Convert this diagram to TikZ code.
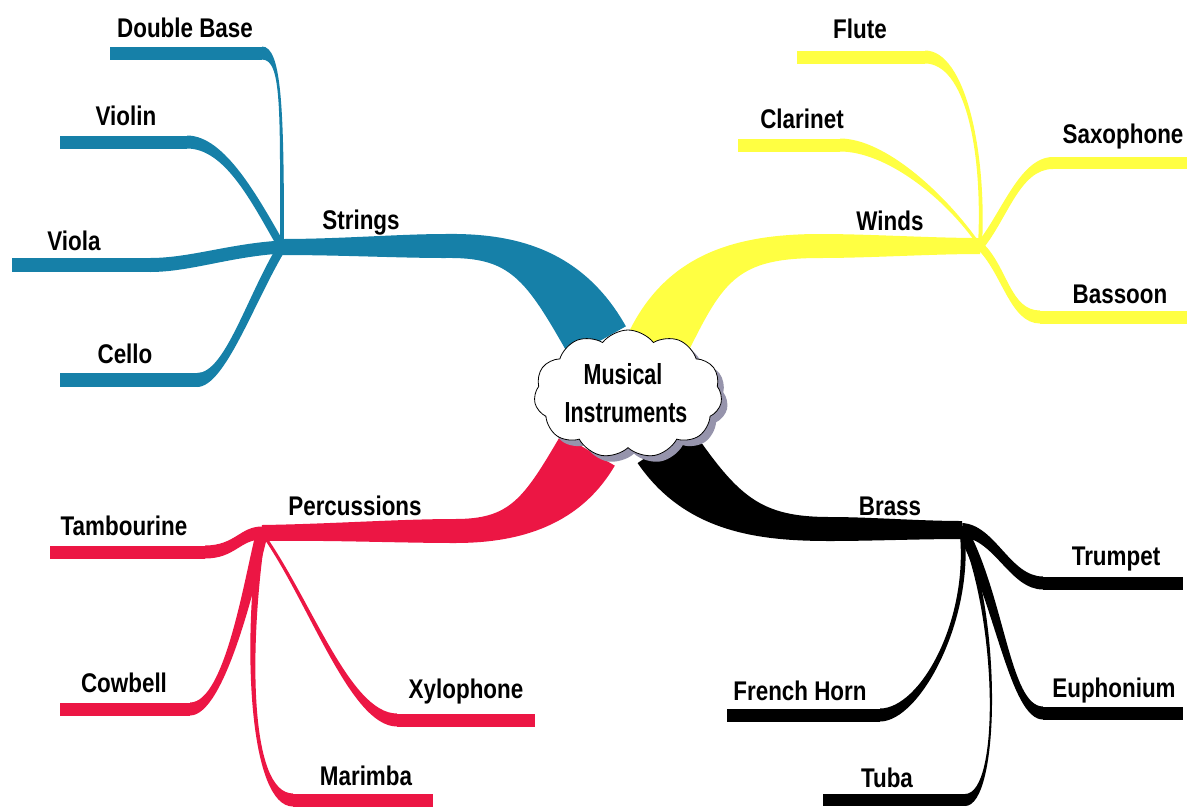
\documentclass[tikz,border=0pt]{standalone}
\usepackage{fontspec}
\newfontfamily\labfont{Liberation Sans}[FakeStretch=0.83]
\newfontfamily\cloudfont{Liberation Sans}[FakeStretch=0.74]
\usetikzlibrary{calc,shapes.symbols}
\definecolor{strblue}{RGB}{22,128,168}
\definecolor{windyel}{RGB}{255,255,66}
\definecolor{percred}{RGB}{236,22,68}
\definecolor{brassblk}{RGB}{0,0,0}
\definecolor{cloudshade}{RGB}{150,148,172}
% tapered cubic band: colour, P0, P1, P2, P3, width at P0, width at P3
\newcommand\taper[7]{%
  \fill[#1] ($(#2)!#6*0.5pt!90:(#3)$) .. controls ($(#3)!#6*0.5pt!-90:(#2)$) and ($(#4)!#7*0.5pt!90:(#5)$) .. ($(#5)!#7*0.5pt!-90:(#4)$)
   -- ($(#5)!#7*0.5pt!90:(#4)$) .. controls ($(#4)!#7*0.5pt!-90:(#5)$) and ($(#3)!#6*0.5pt!90:(#2)$) .. ($(#2)!#6*0.5pt!-90:(#3)$) -- cycle;}
\tikzset{
  lbl/.style={font=\labfont\bfseries\fontsize{27}{30}\selectfont, inner sep=0pt, anchor=base, text=black},
  ctext/.style={font=\cloudfont\bfseries\fontsize{29}{32}\selectfont, inner sep=0pt, anchor=base, text=black},
  leaf/.style={line width=#1, line cap=butt},
  cloudshape/.style={cloud, cloud puffs=11, cloud puff arc=105, aspect=1.5, minimum width=188pt, minimum height=128pt, inner sep=0pt}
}
\begin{document}
\begin{tikzpicture}[x=1pt,y=-1pt]
\useasboundingbox (0,0) rectangle (1187,807);
\fill[white] (0,0) rectangle (1187,807);

% ---------- Strings ----------
\coordinate (Sc) at (598,342);
\coordinate (S1) at (445,246);
\coordinate (Js) at (282,247);
\coordinate (dbK) at (262,53);  \coordinate (dbE) at (110,53);
\coordinate (vnK) at (187,142); \coordinate (vnE) at (60,142);
\coordinate (vaK) at (150,265); \coordinate (vaE) at (12,265);
\coordinate (ceK) at (197,380); \coordinate (ceE) at (60,380);
\taper{strblue}{Sc}{553,262}{510,245}{S1}{64}{24}
\taper{strblue}{S1}{400,246}{340,247}{Js}{24}{16}
\taper{strblue}{Js}{282,110}{282,53}{dbK}{4}{13}
\taper{strblue}{Js}{255,200}{225,142}{vnK}{8}{13}
\taper{strblue}{Js}{230,250}{190,265}{vaK}{13}{14}
\taper{strblue}{Js}{250,300}{225,380}{ceK}{9}{14}
\draw[strblue, leaf=13pt] (dbK) -- (dbE);
\draw[strblue, leaf=13pt] (vnK) -- (vnE);
\draw[strblue, leaf=14pt] (vaK) -- (vaE);
\draw[strblue, leaf=14pt] (ceK) -- (ceE);

% ---------- Winds ----------
\coordinate (Wc) at (657,345);
\coordinate (W1) at (820,246);
\coordinate (Jw) at (980,246);
\coordinate (flK) at (925,57);   \coordinate (flE) at (797,57);
\coordinate (clK) at (840,145);  \coordinate (clE) at (738,145);
\coordinate (sxK) at (1053,163); \coordinate (sxE) at (1187,163);
\coordinate (bsK) at (1040,317); \coordinate (bsE) at (1187,317);
\taper{windyel}{Wc}{695,268}{735,246}{W1}{62}{24}
\taper{windyel}{W1}{870,246}{930,246}{Jw}{24}{16}
\taper{windyel}{Jw}{985,150}{965,57}{flK}{4}{13}
\taper{windyel}{Jw}{945,195}{885,145}{clK}{3}{13}
\taper{windyel}{Jw}{1005,215}{1020,163}{sxK}{8}{12}
\taper{windyel}{Jw}{1005,270}{1010,317}{bsK}{8}{13}
\draw[windyel, leaf=13pt] (flK) -- (flE);
\draw[windyel, leaf=13pt] (clK) -- (clE);
\draw[windyel, leaf=12pt] (sxK) -- (sxE);
\draw[windyel, leaf=13pt] (bsK) -- (bsE);

% ---------- Percussions ----------
\coordinate (Pc) at (588,450);
\coordinate (P1) at (455,531);
\coordinate (Jp) at (262,533);
\coordinate (tbK) at (205,552); \coordinate (tbE) at (50,552);
\coordinate (cwK) at (190,709); \coordinate (cwE) at (60,709);
\coordinate (mrK) at (293,800); \coordinate (mrE) at (433,800);
\coordinate (xyK) at (397,720); \coordinate (xyE) at (535,720);
\taper{percred}{Pc}{550,515}{510,531}{P1}{62}{24}
\taper{percred}{P1}{400,531}{330,532}{Jp}{24}{16}
\taper{percred}{Jp}{240,533}{235,552}{tbK}{13}{13}
\taper{percred}{Jp}{250,580}{225,709}{cwK}{12}{13}
\taper{percred}{Jp}{245,650}{250,800}{mrK}{7}{13}
\taper{percred}{Jp}{310,600}{350,720}{xyK}{3}{13}
\draw[percred, leaf=13pt] (tbK) -- (tbE);
\draw[percred, leaf=13pt] (cwK) -- (cwE);
\draw[percred, leaf=13pt] (mrK) -- (mrE);
\draw[percred, leaf=13pt] (xyK) -- (xyE);

% ---------- Brass ----------
\coordinate (Bc) at (664,445);
\coordinate (B1) at (830,529);
\coordinate (Jb) at (962,530);
\coordinate (trK) at (1043,583); \coordinate (trE) at (1183,583);
\coordinate (euK) at (1043,713); \coordinate (euE) at (1183,713);
\coordinate (tuK) at (965,800);  \coordinate (tuE) at (823,800);
\coordinate (fhK) at (880,715);  \coordinate (fhE) at (727,715);
\taper{brassblk}{Bc}{712,515}{760,529}{B1}{64}{24}
\taper{brassblk}{B1}{870,529}{920,530}{Jb}{24}{18}
\taper{brassblk}{Jb}{995,532}{1010,583}{trK}{14}{13}
\taper{brassblk}{Jb}{1000,600}{1010,713}{euK}{11}{13}
\taper{brassblk}{Jb}{1000,620}{1000,800}{tuK}{5}{12}
\taper{brassblk}{Jb}{972,620}{920,715}{fhK}{5}{13}
\draw[brassblk, leaf=13pt] (trK) -- (trE);
\draw[brassblk, leaf=13pt] (euK) -- (euE);
\draw[brassblk, leaf=12pt] (tuK) -- (tuE);
\draw[brassblk, leaf=13pt] (fhK) -- (fhE);

% ---------- Centre cloud ----------
\node[cloudshape, fill=cloudshade] (cloudshadow) at (634,400) {};
\node[cloudshape, fill=white, draw=black, line width=0.8pt] (cloud) at (628,394) {};
\node[ctext] (musical) at (623,384) {Musical};
\node[ctext] (instr) at (626,422) {Instruments};

% ---------- Labels ----------
\node[lbl] (strL) at (361,229) {Strings};
\node[lbl] (dbL) at (185,37) {Double Base};
\node[lbl] (vnL) at (126,125) {Violin};
\node[lbl] (vaL) at (74,250) {Viola};
\node[lbl] (ceL) at (125,363) {Cello};

\node[lbl] (wiL) at (890,230) {Winds};
\node[lbl] (flL) at (860,38) {Flute};
\node[lbl] (clL) at (802,128) {Clarinet};
\node[lbl] (sxL) at (1123,143) {Saxophone};
\node[lbl] (bsL) at (1120,303) {Bassoon};

\node[lbl] (peL) at (355,515) {Percussions};
\node[lbl] (tbL) at (124,535) {Tambourine};
\node[lbl] (cwL) at (124,692) {Cowbell};
\node[lbl] (xyL) at (466,698) {Xylophone};
\node[lbl] (mrL) at (366,785) {Marimba};

\node[lbl] (brL) at (890,515) {Brass};
\node[lbl] (trL) at (1116,565) {Trumpet};
\node[lbl] (euL) at (1114,697) {Euphonium};
\node[lbl] (fhL) at (800,700) {French Horn};
\node[lbl] (tuL) at (887,787) {Tuba};
\end{tikzpicture}
\end{document}
